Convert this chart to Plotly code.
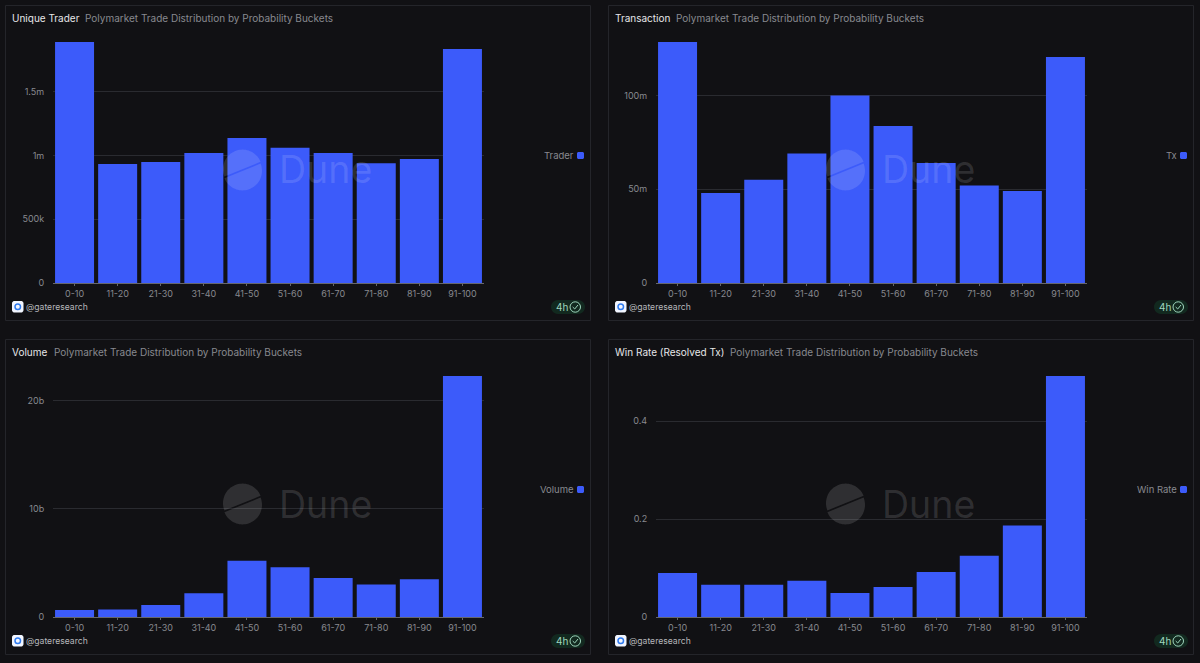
import math
import plotly.graph_objects as go

W, H = 1200, 663
categories = ["0-10", "11-20", "21-30", "31-40", "41-50", "51-60", "61-70", "71-80", "81-90", "91-100"]
trader = [1890000, 933000, 949000, 1020000, 1137000, 1060000, 1020000, 940000, 973000, 1835000]
tx = [128500000, 48000000, 55000000, 69000000, 100000000, 83700000, 64000000, 52000000, 49000000, 120500000]
volume = [650000000, 700000000, 1100000000, 2200000000, 5200000000, 4600000000, 3600000000, 3000000000, 3500000000, 22300000000]
winrate = [0.09, 0.066, 0.066, 0.074, 0.049, 0.061, 0.092, 0.125, 0.187, 0.492]

titles = ["Unique Trader", "Transaction", "Volume", "Win Rate (Resolved Tx)"]
subtitle = "Polymarket Trade Distribution by Probability Buckets"
legend_names = ["Trader", "Tx", "Volume", "Win Rate"]
series = [trader, tx, volume, winrate]
tickvals = [[0, 500000, 1000000, 1500000], [0, 50000000, 100000000], [0, 10000000000, 20000000000], [0, 0.2, 0.4]]
ticktext = [["0", "500k", "1m", "1.5m"], ["0", "50m", "100m"], ["0", "10b", "20b"], ["0", "0.2", "0.4"]]
y_max = [1890000, 128500000, 22300000000, 0.492]

BG = "#111114"
BAR = "#3c5bfa"
GRID = "#2a2b30"
MUTED = "#88898f"
WHITE = "#e6e6e8"
FONT = "Inter"

PANEL_W, PANEL_H = 586, 316
panel_xy = [(5, 5), (608, 5), (5, 339), (608, 339)]
sub_offset = [80, 68, 49, 122]

fx = lambda x: x / W
fy = lambda y: 1 - y / H
P = lambda x, y: f"{fx(x):.5f},{fy(y):.5f}"

fig = go.Figure()
shapes, ann = [], []


def text(x, y, s, size, color, anchor="left"):
    ann.append(dict(x=fx(x), y=fy(y), xref="paper", yref="paper", text=s, showarrow=False,
                    xanchor=anchor, yanchor="middle", font=dict(family=FONT, size=size, color=color)))


def path(d, **kw):
    shapes.append(dict(type="path", xref="paper", yref="paper", path=d, **kw))


def rrect(x0, y0, x1, y1, r, **kw):
    pts = []
    for cx, cy, a0 in [(x1 - r, y0 + r, -90), (x1 - r, y1 - r, 0), (x0 + r, y1 - r, 90), (x0 + r, y0 + r, 180)]:
        for k in range(7):
            a = math.radians(a0 + k * 15)
            pts.append(P(cx + r * math.cos(a), cy + r * math.sin(a)))
    path("M" + " L".join(pts) + " Z", **kw)


def half_disc(cx, cy, r, a0, a1, **kw):
    pts = []
    for k in range(41):
        a = math.radians(a0 + (a1 - a0) * k / 40)
        pts.append(P(cx + r * math.cos(a), cy + r * math.sin(a)))
    path("M" + " L".join(pts) + " Z", **kw)


for i, (px, py) in enumerate(panel_xy):
    ax = "" if i == 0 else str(i + 1)
    x0, x1 = px + 48, px + 479
    y_top, y_bot = py + 37, py + 278
    fig.add_trace(go.Bar(x=categories, y=series[i], xaxis="x" + ax, yaxis="y" + ax,
                         marker=dict(color=BAR, line=dict(width=0)), width=0.905,
                         showlegend=False, hoverinfo="skip"))
    fig.layout["xaxis" + ax] = dict(domain=[fx(x0), fx(x1)], anchor="y" + ax, type="category",
                                    categoryorder="array", categoryarray=categories,
                                    tickfont=dict(family=FONT, size=9, color=MUTED),
                                    ticks="outside", ticklen=2, tickcolor="#66676c", showgrid=False,
                                    showline=True, linecolor="#66676c", linewidth=1, zeroline=False,
                                    fixedrange=True)
    fig.layout["yaxis" + ax] = dict(domain=[fy(y_bot), fy(y_top)], anchor="x" + ax,
                                    range=[0, y_max[i]], tickmode="array", tickvals=tickvals[i],
                                    ticktext=ticktext[i], tickfont=dict(family=FONT, size=9, color=MUTED),
                                    ticks="outside", ticklen=6, tickcolor="rgba(0,0,0,0)",
                                    showgrid=True, gridcolor=GRID, gridwidth=1, zeroline=False,
                                    showline=False, fixedrange=True)
    shapes.append(dict(type="rect", xref="paper", yref="paper", x0=fx(px + 0.5), x1=fx(px + PANEL_W - 0.5),
                       y0=fy(py + PANEL_H - 0.5), y1=fy(py + 0.5), line=dict(color="#24252a", width=1),
                       fillcolor="rgba(0,0,0,0)", layer="below"))
    text(px + 5, py + 13, titles[i], 10, WHITE)
    text(px + sub_offset[i] - 2, py + 13, subtitle, 10, MUTED)
    text(px + 571, py + 150, legend_names[i], 9.5, MUTED, anchor="right")
    rrect(px + 572, py + 147, px + 579, py + 154, 1.5, fillcolor=BAR, line=dict(width=0))
    # author badge
    rrect(px + 7, py + 296, px + 18.5, py + 307.5, 2.5, fillcolor="#f2f6ff", line=dict(width=0))
    shapes.append(dict(type="circle", xref="paper", yref="paper", x0=fx(px + 10), x1=fx(px + 15.5),
                       y0=fy(py + 304.5), y1=fy(py + 299), fillcolor="rgba(0,0,0,0)",
                       line=dict(color="#2f7bf0", width=1.5)))
    text(px + 19, py + 302, "@gateresearch", 8.6, "#b6b7bb")
    # freshness badge
    rrect(px + 546, py + 295, px + 580, py + 309, 7, fillcolor="#12291f", line=dict(width=0))
    text(px + 549, py + 302, "4h", 10, "#9fd6bd")
    shapes.append(dict(type="circle", xref="paper", yref="paper", x0=fx(px + 565), x1=fx(px + 575.5),
                       y0=fy(py + 307.2), y1=fy(py + 296.8), fillcolor="rgba(0,0,0,0)",
                       line=dict(color="#9fd6bd", width=1)))
    path("M" + P(px + 567.7, py + 302) + " L" + P(px + 569.7, py + 304) + " L" + P(px + 573, py + 300),
         line=dict(color="#9fd6bd", width=1), fillcolor="rgba(0,0,0,0)")
    # watermark: disc cut by a slanted gap, so that the bars show through the cut
    cx, cy = px + 237.5, py + 165
    half_disc(cx, cy - 0.9, 19.5, -22, 158 - 360, fillcolor="rgba(255,255,255,0.13)", line=dict(width=0), layer="above")
    half_disc(cx, cy + 0.9, 19.5, -22, 158, fillcolor="rgba(255,255,255,0.13)", line=dict(width=0), layer="above")
    text(px + 272, py + 165, "Dune", 37.5, "rgba(255,255,255,0.13)")

fig.update_layout(width=W, height=H, margin=dict(l=0, r=0, t=0, b=0, autoexpand=False),
                  paper_bgcolor=BG, plot_bgcolor=BG, shapes=shapes, annotations=ann, bargap=0.095)
fig.write_html("out.html", post_script="document.body.style.margin='0';", config={"displayModeBar": False})
